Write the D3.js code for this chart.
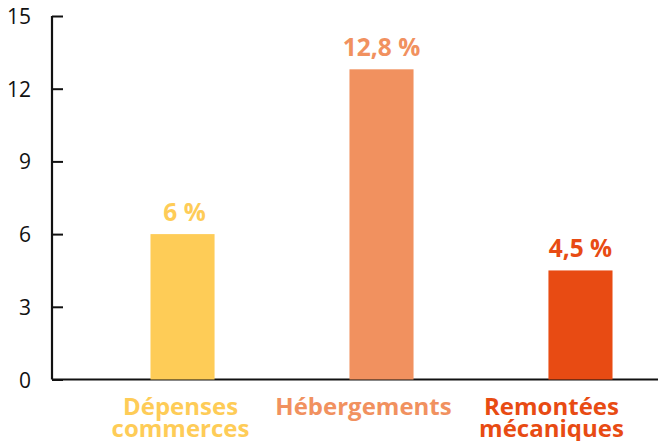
<!DOCTYPE html>
<html><head><meta charset="utf-8">
<script src="https://cdn.jsdelivr.net/npm/d3@7"></script>
<style>html,body{margin:0;padding:0;background:#fff}</style>
</head><body>
<script>
const categories = ["Dépenses commerces", "Hébergements", "Remontées mécaniques"];
const categoryLines = [["Dépenses", "commerces"], ["Hébergements"], ["Remontées", "mécaniques"]];
const values = [6, 12.8, 4.5];
const valueLabels = ["6 %", "12,8 %", "4,5 %"];
const tickValues = [0, 3, 6, 9, 12, 15];
const colors = ["#FECC57", "#F1915F", "#E84B13"];

const W = 658, H = 441;
const svg = d3.select("body").append("svg").attr("width", W).attr("height", H);

const y = d3.scaleLinear().domain([0, 15]).range([379.5, 16]);
const x = d3.scaleBand().domain(categories).range([51, 712]).paddingInner(0.678).paddingOuter(0.5);
const labelShift = [-2, -18, -29];
const valueShift = [2, 0, 0];

// baseline
svg.append("line").attr("x1", 52).attr("x2", W).attr("y1", y(0)).attr("y2", y(0))
  .attr("stroke", "#111").attr("stroke-width", 2.2);

// y axis
const yAxis = d3.axisLeft(y).tickValues(tickValues).tickSize(-11).tickPadding(21).tickFormat(d3.format("d"));
const gy = svg.append("g").attr("transform", "translate(52,0)").call(yAxis);
gy.select(".domain").attr("stroke", "#111").attr("stroke-width", 2.2).attr("d", `M0,${y(15)}V${y(0)}`);
gy.selectAll(".tick line").attr("stroke", "#111").attr("stroke-width", 2);
gy.selectAll(".tick text").attr("font-family", "'Open Sans', sans-serif").attr("font-size", 21)
  .attr("fill", "#111").attr("dy", "0.36em");

// bars
svg.selectAll("rect.bar").data(values).enter().append("rect")
  .attr("x", (d, i) => x(categories[i]))
  .attr("width", x.bandwidth())
  .attr("y", d => y(d))
  .attr("height", d => y(0) - y(d))
  .attr("fill", (d, i) => colors[i]);

// value labels
svg.selectAll("text.val").data(values).enter().append("text")
  .attr("x", (d, i) => x(categories[i]) + x.bandwidth() / 2 + valueShift[i])
  .attr("y", d => y(d) - 13)
  .attr("text-anchor", "middle")
  .attr("font-family", "'Open Sans', sans-serif").attr("font-weight", 700).attr("font-size", 24.5)
  .attr("fill", (d, i) => colors[i])
  .text((d, i) => valueLabels[i]);

// category labels
categoryLines.forEach((lines, i) => {
  const cx = x(categories[i]) + x.bandwidth() / 2 + labelShift[i];
  const t = svg.append("text")
    .attr("x", cx)
    .attr("y", 415)
    .attr("text-anchor", "middle")
    .attr("font-family", "'Open Sans', sans-serif").attr("font-weight", 700).attr("font-size", 24)
    .attr("fill", colors[i]);
  lines.forEach((l, j) => t.append("tspan").attr("x", cx)
    .attr("dy", j === 0 ? 0 : 21.5).text(l));
});
</script>
</body></html>
